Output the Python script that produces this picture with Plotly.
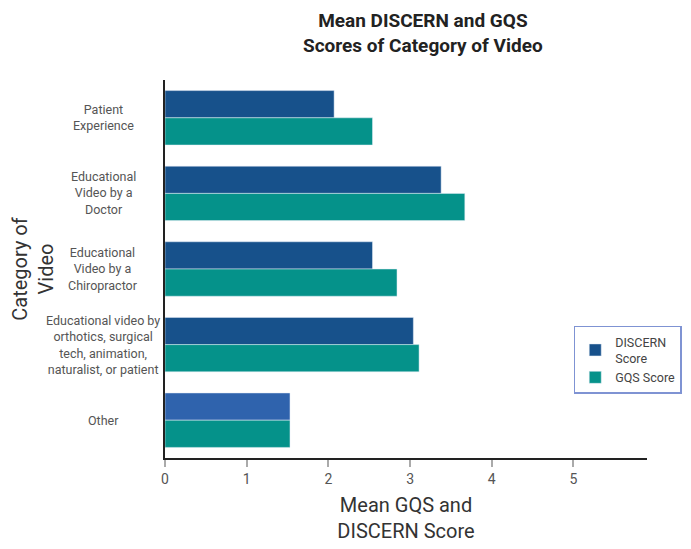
import plotly.graph_objects as go

CATEGORIES = [
    "Patient<br>Experience",
    "Educational<br>Video by a<br>Doctor",
    "Educational<br>Video by a<br>Chiropractor",
    "Educational video by<br>orthotics, surgical<br>tech, animation,<br>naturalist, or patient",
    "Other",
]
DISCERN = [2.07, 3.38, 2.54, 3.04, 1.53]
GQS = [2.54, 3.67, 2.84, 3.11, 1.53]
X_TICKS = [0, 1, 2, 3, 4, 5]

DISCERN_COLOR = "#17518b"
OTHER_COLOR = "#2f63ad"
GQS_COLOR = "#05928a"

ids = list(range(len(CATEGORIES)))

fig = go.Figure()
fig.add_trace(go.Bar(
    y=ids, x=DISCERN, orientation="h", name="DISCERN<br>Score",
    marker=dict(color=[DISCERN_COLOR] * (len(ids) - 1) + [OTHER_COLOR]),
))
fig.add_trace(go.Bar(
    y=ids, x=GQS, orientation="h", name="GQS Score",
    marker=dict(color=GQS_COLOR),
))

# category labels, centred like the original
for i, label in zip(ids, CATEGORIES):
    fig.add_annotation(
        x=-0.128, xref="paper", y=i, yref="y", text=label, showarrow=False,
        xanchor="center", align="center",
        font=dict(family="Roboto", size=12.5, color="#555555"),
    )

# title as an annotation so both lines stay on the page
fig.add_annotation(
    x=0.535, xref="paper", y=1.055, yref="paper", xanchor="center", yanchor="bottom",
    text="<b>Mean DISCERN and GQS<br>Scores of Category of Video</b>",
    showarrow=False, align="center",
    font=dict(family="Roboto", size=19, color="#222222"),
)

fig.update_layout(
    width=691, height=549,
    margin=dict(l=157, r=52, t=72, b=99),
    paper_bgcolor="white", plot_bgcolor="white",
    font=dict(family="Roboto", color="#222222"),
    barmode="group", bargap=0.28, bargroupgap=0,
    showlegend=True,
    legend=dict(
        x=0.848, y=0.35, xanchor="left", yanchor="top",
        bordercolor="#7f93d3", borderwidth=1.5, bgcolor="white",
        font=dict(family="Roboto", size=12.5, color="#444444"),
        traceorder="normal", tracegroupgap=18,
    ),
    xaxis=dict(
        range=[0, 5.9], tickvals=X_TICKS, showgrid=False, zeroline=False,
        showline=True, linecolor="#222222", linewidth=2,
        ticks="outside", ticklen=7, tickcolor="#aaaaaa", tickwidth=1.5,
        tickfont=dict(family="Roboto", size=14, color="#555555"),
        automargin=False,
        title=dict(text="Mean GQS and<br>DISCERN Score", standoff=12,
                   font=dict(family="Roboto", size=20, color="#333333")),
    ),
    yaxis=dict(
        range=[len(ids) - 0.5, -0.5], tickvals=ids, showticklabels=False,
        showgrid=False, zeroline=False, automargin=False,
        showline=True, linecolor="#222222", linewidth=2,
        title=dict(text="Category of<br>Video", standoff=107,
                   font=dict(family="Roboto", size=20, color="#333333")),
    ),
)

fig.write_html("out.html")
